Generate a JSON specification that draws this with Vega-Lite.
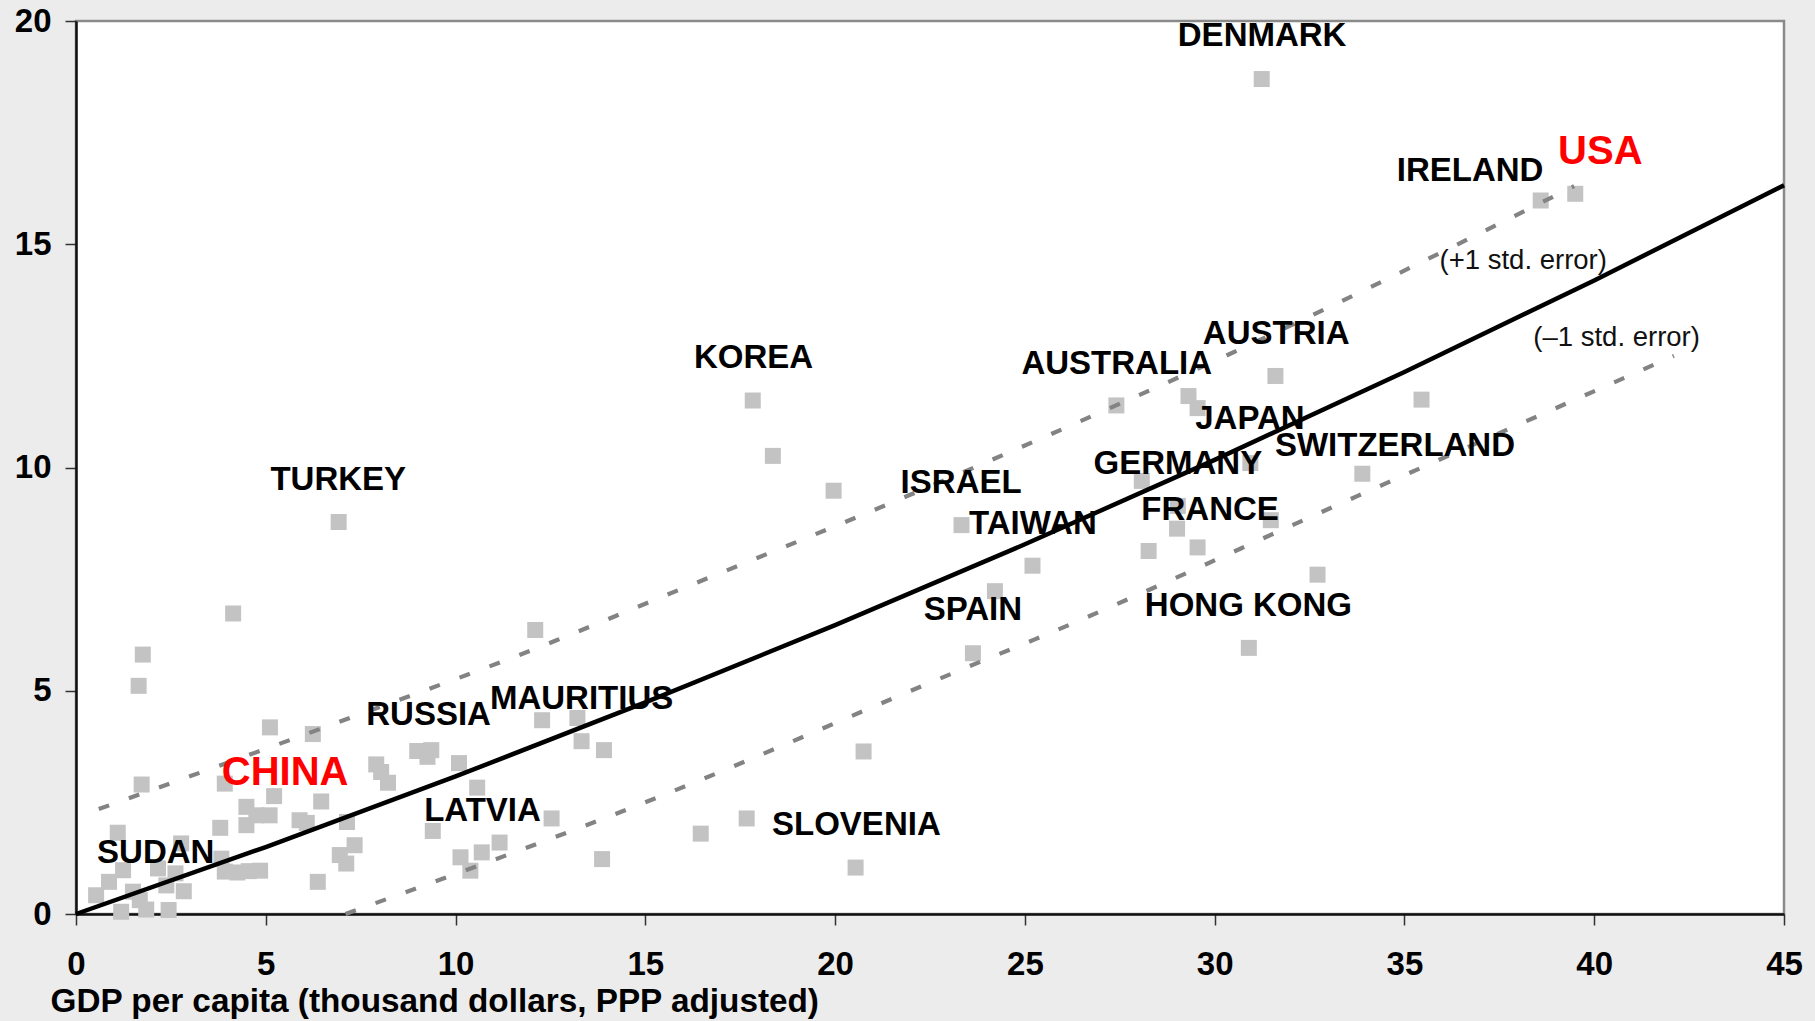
{
  "$schema": "https://vega.github.io/schema/vega-lite/v6.json",
  "width": 1708,
  "height": 893,
  "autosize": "none",
  "padding": {"left": 76, "top": 21, "right": 31, "bottom": 107},
  "background": "#ececec",
  "config": {
    "view": {"fill": "white", "stroke": "#8a8a8a", "strokeWidth": 2.5},
    "font": "Liberation Sans"
  },
  "datasets": {
    "points": [
      {"gdp": 1.76, "value": 5.81}, {"gdp": 1.65, "value": 5.11}, {"gdp": 1.73, "value": 2.90}, {"gdp": 1.10, "value": 1.82},
      {"gdp": 1.24, "value": 0.98}, {"gdp": 0.87, "value": 0.72}, {"gdp": 0.53, "value": 0.42}, {"gdp": 1.50, "value": 0.50},
      {"gdp": 1.68, "value": 0.31}, {"gdp": 1.85, "value": 0.10}, {"gdp": 1.19, "value": 0.05}, {"gdp": 2.16, "value": 1.02},
      {"gdp": 2.38, "value": 0.64}, {"gdp": 2.62, "value": 0.91}, {"gdp": 2.84, "value": 0.51}, {"gdp": 2.44, "value": 0.09},
      {"gdp": 2.77, "value": 1.58}, {"gdp": 3.83, "value": 1.24}, {"gdp": 3.92, "value": 0.95}, {"gdp": 4.25, "value": 0.93},
      {"gdp": 4.55, "value": 0.96}, {"gdp": 4.85, "value": 0.97}, {"gdp": 3.80, "value": 1.93}, {"gdp": 3.92, "value": 2.92},
      {"gdp": 4.49, "value": 2.40}, {"gdp": 4.75, "value": 2.21}, {"gdp": 5.10, "value": 2.21}, {"gdp": 4.49, "value": 1.99},
      {"gdp": 5.22, "value": 2.64}, {"gdp": 5.11, "value": 4.18}, {"gdp": 6.24, "value": 4.03}, {"gdp": 4.14, "value": 6.73},
      {"gdp": 5.89, "value": 2.10}, {"gdp": 6.08, "value": 2.04}, {"gdp": 6.46, "value": 2.52}, {"gdp": 7.14, "value": 2.06},
      {"gdp": 7.34, "value": 1.54}, {"gdp": 6.95, "value": 1.32}, {"gdp": 7.12, "value": 1.13}, {"gdp": 6.37, "value": 0.72},
      {"gdp": 6.92, "value": 8.78}, {"gdp": 7.91, "value": 3.35}, {"gdp": 8.04, "value": 3.18}, {"gdp": 8.22, "value": 2.94},
      {"gdp": 8.99, "value": 3.65}, {"gdp": 9.36, "value": 3.67}, {"gdp": 9.26, "value": 3.52}, {"gdp": 10.09, "value": 3.38},
      {"gdp": 10.57, "value": 2.83}, {"gdp": 12.28, "value": 4.34}, {"gdp": 13.21, "value": 4.39}, {"gdp": 13.32, "value": 3.87},
      {"gdp": 13.91, "value": 3.67}, {"gdp": 12.53, "value": 2.14}, {"gdp": 9.40, "value": 1.86}, {"gdp": 11.16, "value": 1.60},
      {"gdp": 10.69, "value": 1.38}, {"gdp": 10.13, "value": 1.27}, {"gdp": 10.39, "value": 0.97}, {"gdp": 13.86, "value": 1.23},
      {"gdp": 12.10, "value": 6.36}, {"gdp": 16.46, "value": 1.80}, {"gdp": 17.67, "value": 2.14}, {"gdp": 20.54, "value": 1.04},
      {"gdp": 20.75, "value": 3.64}, {"gdp": 19.96, "value": 9.48}, {"gdp": 18.36, "value": 10.26}, {"gdp": 17.83, "value": 11.50},
      {"gdp": 23.33, "value": 8.71}, {"gdp": 25.20, "value": 7.80}, {"gdp": 24.21, "value": 7.23}, {"gdp": 23.63, "value": 5.84},
      {"gdp": 27.41, "value": 11.39}, {"gdp": 29.31, "value": 11.60}, {"gdp": 29.55, "value": 11.33}, {"gdp": 31.60, "value": 12.05},
      {"gdp": 30.94, "value": 10.10}, {"gdp": 28.08, "value": 9.70}, {"gdp": 29.03, "value": 9.14}, {"gdp": 31.48, "value": 8.82},
      {"gdp": 29.01, "value": 8.63}, {"gdp": 28.26, "value": 8.13}, {"gdp": 29.55, "value": 8.21}, {"gdp": 32.71, "value": 7.60},
      {"gdp": 30.90, "value": 5.96}, {"gdp": 33.89, "value": 9.86}, {"gdp": 35.45, "value": 11.52}, {"gdp": 31.24, "value": 18.70},
      {"gdp": 38.59, "value": 15.98}, {"gdp": 39.50, "value": 16.13}
    ],
    "fit": [
      {"gdp": 0, "value": 0}, {"gdp": 5, "value": 1.50}, {"gdp": 10, "value": 3.08}, {"gdp": 15, "value": 4.74},
      {"gdp": 20, "value": 6.47}, {"gdp": 25, "value": 8.28}, {"gdp": 30, "value": 10.17}, {"gdp": 35, "value": 12.14},
      {"gdp": 40, "value": 14.19}, {"gdp": 45, "value": 16.32}
    ],
    "upper": [
      {"gdp": 0.6, "value": 2.35}, {"gdp": 7.12, "value": 4.36}, {"gdp": 12.66, "value": 6.13}, {"gdp": 15.03, "value": 6.96},
      {"gdp": 22.01, "value": 9.40}, {"gdp": 25.21, "value": 10.57}, {"gdp": 30.62, "value": 12.63}, {"gdp": 39.47, "value": 16.30}
    ],
    "lower": [
      {"gdp": 7.1, "value": 0}, {"gdp": 15.05, "value": 2.52}, {"gdp": 23.6, "value": 5.57}, {"gdp": 25.26, "value": 6.15},
      {"gdp": 33.52, "value": 9.27}, {"gdp": 42.1, "value": 12.50}
    ],
    "labels": [
      {"label": "DENMARK", "gdp": 31.25, "value": 19.66, "kind": "country"},
      {"label": "IRELAND", "gdp": 36.73, "value": 16.65, "kind": "country"},
      {"label": "AUSTRIA", "gdp": 31.62, "value": 13.0, "kind": "country"},
      {"label": "AUSTRALIA", "gdp": 27.42, "value": 12.32, "kind": "country"},
      {"label": "KOREA", "gdp": 17.85, "value": 12.45, "kind": "country"},
      {"label": "JAPAN", "gdp": 30.93, "value": 11.08, "kind": "country"},
      {"label": "SWITZERLAND", "gdp": 34.75, "value": 10.48, "kind": "country"},
      {"label": "GERMANY", "gdp": 29.03, "value": 10.07, "kind": "country"},
      {"label": "TURKEY", "gdp": 6.91, "value": 9.73, "kind": "country"},
      {"label": "ISRAEL", "gdp": 23.32, "value": 9.65, "kind": "country"},
      {"label": "FRANCE", "gdp": 29.88, "value": 9.05, "kind": "country"},
      {"label": "TAIWAN", "gdp": 25.21, "value": 8.74, "kind": "country"},
      {"label": "SPAIN", "gdp": 23.63, "value": 6.80, "kind": "country"},
      {"label": "HONG KONG", "gdp": 30.89, "value": 6.90, "kind": "country"},
      {"label": "MAURITIUS", "gdp": 13.32, "value": 4.82, "kind": "country"},
      {"label": "RUSSIA", "gdp": 9.29, "value": 4.46, "kind": "country"},
      {"label": "LATVIA", "gdp": 10.71, "value": 2.31, "kind": "country"},
      {"label": "SLOVENIA", "gdp": 20.56, "value": 2.0, "kind": "country"},
      {"label": "SUDAN", "gdp": 2.10, "value": 1.37, "kind": "country"},
      {"label": "USA", "gdp": 40.16, "value": 17.07, "kind": "red"},
      {"label": "CHINA", "gdp": 5.51, "value": 3.16, "kind": "red"},
      {"label": "(+1 std. error)", "gdp": 38.13, "value": 14.63, "kind": "note"},
      {"label": "(–1 std. error)", "gdp": 40.59, "value": 12.89, "kind": "note"}
    ]
  },
  "encoding": {
    "x": {
      "field": "gdp", "type": "quantitative",
      "scale": {"domain": [0, 45], "nice": false, "zero": false},
      "axis": {
        "title": "GDP per capita (thousand dollars, PPP adjusted)",
        "values": [0, 5, 10, 15, 20, 25, 30, 35, 40, 45],
        "grid": false,
        "domainColor": "#111111", "domainWidth": 2.5,
        "tickColor": "#333333", "tickWidth": 1.5, "tickSize": 11,
        "labelFont": "Liberation Sans", "labelFontWeight": "bold", "labelFontSize": 33, "labelColor": "#000000",
        "labelBaseline": "alphabetic", "labelPadding": 49, "labelFlush": false, "labelOverlap": false,
        "titleFont": "Liberation Sans", "titleFontWeight": "bold", "titleFontSize": 33.3, "titleColor": "#000000",
        "titleAnchor": "start", "titleAlign": "left", "titleBaseline": "alphabetic", "titleX": -26, "titleY": 97
      }
    },
    "y": {
      "field": "value", "type": "quantitative",
      "scale": {"domain": [0, 20], "nice": false, "zero": false},
      "axis": {
        "title": null,
        "values": [0, 5, 10, 15, 20],
        "grid": false,
        "domainColor": "#111111", "domainWidth": 2.5,
        "tickColor": "#333333", "tickWidth": 1.5, "tickSize": 11,
        "labelFont": "Liberation Sans", "labelFontWeight": "bold", "labelFontSize": 33, "labelColor": "#000000",
        "labelPadding": 14, "labelFlush": false, "labelOverlap": false
      }
    }
  },
  "layer": [
    {
      "data": {"name": "points"},
      "mark": {"type": "point", "shape": "square", "filled": true, "size": 256, "color": "#c3c3c3", "opacity": 1}
    },
    {
      "data": {"name": "upper"},
      "mark": {"type": "line", "color": "#838383", "strokeWidth": 4.2, "strokeDash": [11, 21], "interpolate": "monotone"}
    },
    {
      "data": {"name": "lower"},
      "mark": {"type": "line", "color": "#838383", "strokeWidth": 4.2, "strokeDash": [11, 21], "interpolate": "monotone"}
    },
    {
      "data": {"name": "fit"},
      "mark": {"type": "line", "color": "#000000", "strokeWidth": 4.5, "interpolate": "monotone"}
    },
    {
      "data": {"name": "labels"},
      "transform": [{"filter": "datum.kind === 'country'"}],
      "mark": {"type": "text", "font": "Liberation Sans", "fontWeight": "bold", "fontSize": 33, "color": "#000000", "align": "center", "baseline": "middle"},
      "encoding": {"text": {"field": "label"}}
    },
    {
      "data": {"name": "labels"},
      "transform": [{"filter": "datum.kind === 'red'"}],
      "mark": {"type": "text", "font": "Liberation Sans", "fontWeight": "bold", "fontSize": 40, "color": "#ff0000", "align": "center", "baseline": "middle"},
      "encoding": {"text": {"field": "label"}}
    },
    {
      "data": {"name": "labels"},
      "transform": [{"filter": "datum.kind === 'note'"}],
      "mark": {"type": "text", "font": "Liberation Sans", "fontWeight": "normal", "fontSize": 27.5, "color": "#111111", "align": "center", "baseline": "middle"},
      "encoding": {"text": {"field": "label"}}
    }
  ]
}
